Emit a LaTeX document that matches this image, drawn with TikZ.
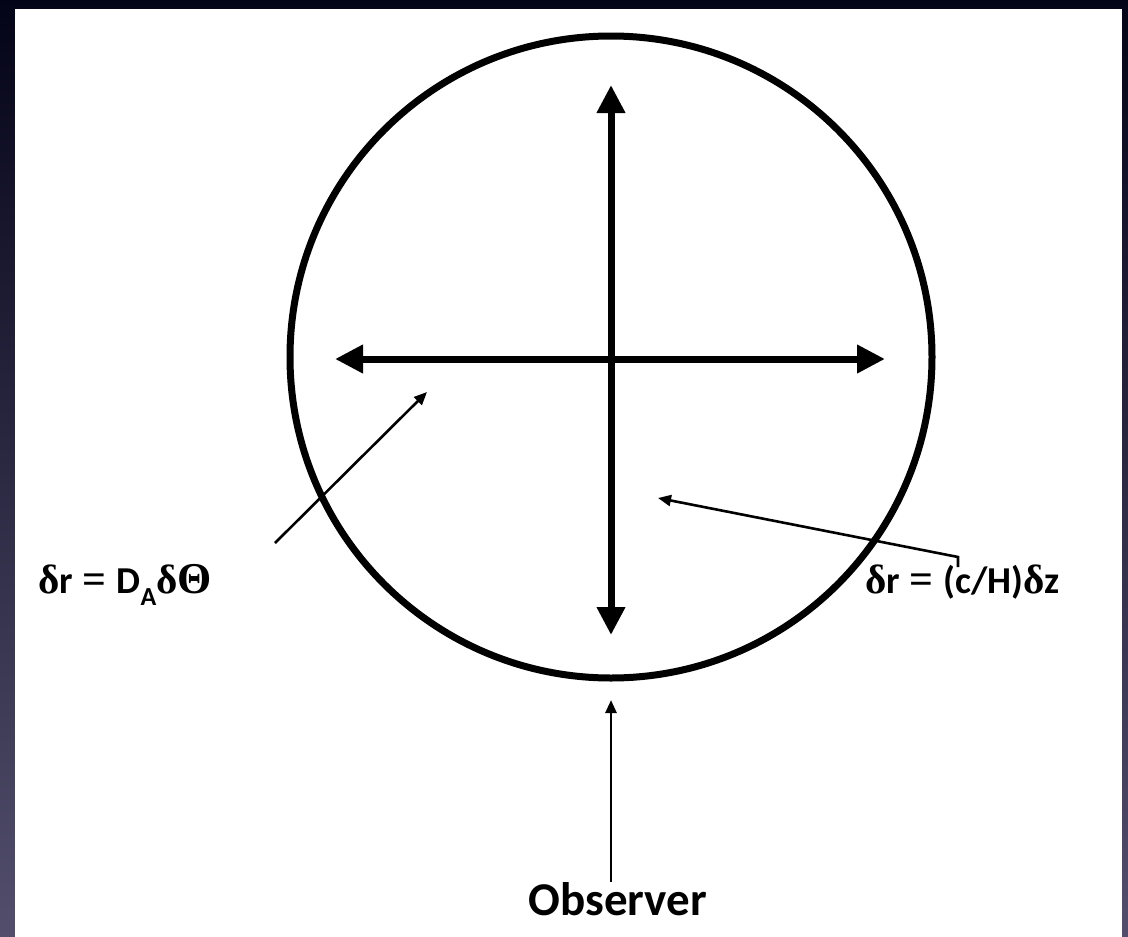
\documentclass[tikz,border=0pt]{standalone}
\usepackage{fontspec}
\setmainfont{Carlito}
\newfontfamily\grk{Liberation Serif}
\usetikzlibrary{arrows.meta}
\definecolor{bgtop}{RGB}{4,4,24}
\definecolor{bgbot}{RGB}{82,78,108}
\newcommand{\gd}{{\grk\bfseries\fontsize{41}{44}\selectfont δ}}
\newcommand{\myeq}{\hspace{0.26em}{\grk\bfseries\fontsize{42}{44}\selectfont =}\hspace{0.26em}}
\tikzset{
  bigarrow/.style={line width=7pt,{Triangle[length=28pt,width=27pt]}-{Triangle[length=28pt,width=27pt]}},
  thinarrow/.style={line width=2.6pt,-{Triangle[length=13pt,width=11pt]}},
  lbl/.style={inner sep=0pt,font=\fontsize{38}{42}\selectfont\bfseries},
  obs/.style={inner sep=0pt,font=\fontsize{47}{52}\selectfont\bfseries}
}
\begin{document}
\begin{tikzpicture}[x=1pt,y=-1pt]
\useasboundingbox (0,0) rectangle (1128,937);
\shade[top color=bgtop,bottom color=bgbot] (0,0) rectangle (1128,937);
\fill[white] (15,9) rectangle (1122,937);
% circle
\node[circle,draw,line width=7pt,minimum size=642pt,inner sep=0pt] (circ) at (611,357) {};
% axes
\coordinate (vtop) at (611,85);
\coordinate (vbot) at (611,635);
\coordinate (hl) at (335,359);
\coordinate (hr) at (885,359);
\draw[bigarrow] (vtop) -- (vbot);
\draw[bigarrow] (hl) -- (hr);
% labels
\node[lbl,anchor=base west] (la) at (38,593) {\gd r\myeq D\raisebox{-0.33em}{\fontsize{26}{28}\selectfont A}\gd{\grk\bfseries\fontsize{44}{46}\selectfont Θ}};
\node[lbl,anchor=base west] (lb) at (865,593) {\gd r\myeq(c/H)\gd z};
\node[obs,anchor=base] (ob) at (618,915) {Observer};
% pointer arrows
\coordinate (latail) at (275,543);
\coordinate (latip) at (427,392);
\draw[thinarrow] (latail) -- (latip);
\coordinate (lbhook) at (958,567);
\coordinate (lbtail) at (958,557);
\coordinate (lbtip) at (658,498);
\draw[thinarrow] (lbhook) -- (lbtail) -- (lbtip);
\coordinate (obtail) at (611,882);
\coordinate (obtip) at (611,700);
\draw[thinarrow] (obtail) -- (obtip);
\end{tikzpicture}
\end{document}
